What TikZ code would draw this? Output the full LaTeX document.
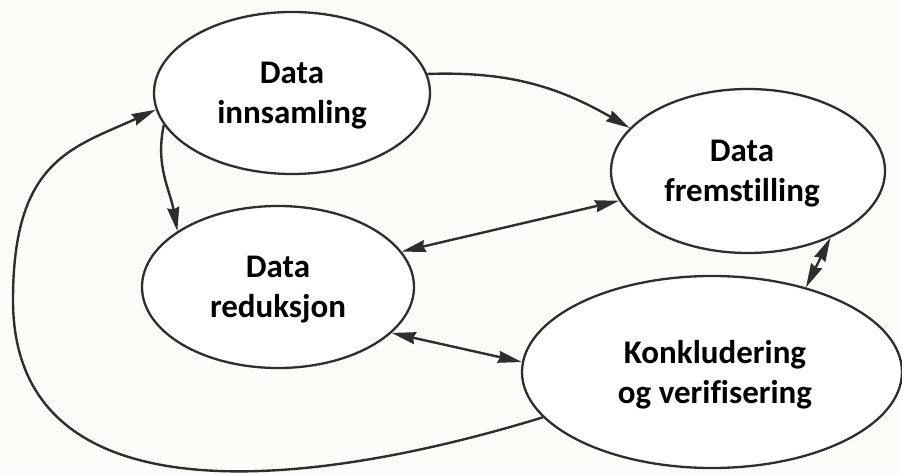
\documentclass[tikz,border=0pt]{standalone}
\usepackage{fontspec}
\setmainfont{Carlito}[Ligatures={NoCommon}]
\usetikzlibrary{arrows.meta,shapes.geometric}
\definecolor{ink}{HTML}{2E2E2E}
\definecolor{paper}{HTML}{FCFCF8}
\begin{document}
\begin{tikzpicture}[x=1pt,y=1pt,
  stage/.style={ellipse, draw=ink, line width=2.3pt, fill=white, inner sep=0pt},
  lbl/.style={font=\bfseries\fontsize{33}{40}\selectfont, align=center, text=black, inner sep=0pt},
  link/.style={draw=ink, line width=2.4pt, -{Stealth[length=24pt,width=12pt,inset=2pt]}},
  twoway/.style={draw=ink, line width=2.4pt,
    {Stealth[length=24pt,width=12pt,inset=2pt]}-{Stealth[length=24pt,width=12pt,inset=2pt]}},
]
% page and background
\fill[paper] (0,0) rectangle (902,474);
\useasboundingbox (0,0) rectangle (902,474);

% the four stages
\node[stage, minimum width=276pt, minimum height=162pt] (i) at (292,381) {};
\node[stage, minimum width=274pt, minimum height=164pt] (f) at (748,303) {};
\node[stage, minimum width=272pt, minimum height=162pt] (r) at (278,187) {};
\node[stage, minimum width=380pt, minimum height=192pt] (k) at (712,102) {};

\node[lbl] (i-t) at ([yshift=-3pt]i.center) {Data\\innsamling};
\node[lbl] (f-t) at ([xshift=-6pt,yshift=-3pt]f.center) {Data\\fremstilling};
\node[lbl] (r-t) at ([yshift=-3pt]r.center) {Data\\reduksjon};
\node[lbl] (k-t) at ([xshift=3pt,yshift=-3pt]k.center) {Konkludering\\og verifisering};

% one-way flows
\draw[link] (i.8) to[out=2, in=150] (f.160);
\draw[link] (i.194) to[out=258, in=100] (r.151);

% two-way flows
\draw[twoway] (r.16) -- (f.193);
\draw[twoway] (r.-22) -- (k.177);
\draw[twoway] (f.-39) -- (k.42);

% feedback loop back to data collection
\draw[link] (k.195) .. controls (303,-17) and (13,-46) .. (13,174)
                    .. controls (13,314) and (72,326) .. (i.187);
\end{tikzpicture}
\end{document}
